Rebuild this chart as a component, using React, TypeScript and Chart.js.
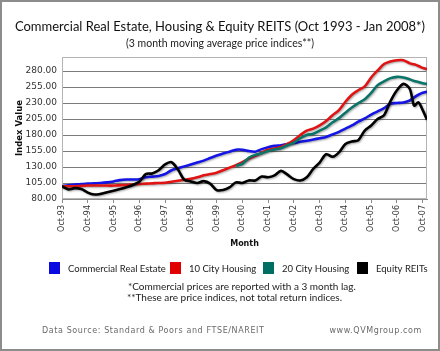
import React, { useEffect, useRef } from "react";
import { Chart, registerables } from "chart.js";

Chart.register(...registerables);

// Months since Oct 1993 (quarterly samples, denser at the end; last = Dec 2007)
const monthOffsets = [
  0, 3, 6, 9, 12, 15, 18, 21, 24, 27, 30, 33, 36, 39, 42, 45, 48, 51, 54, 57,
  60, 63, 66, 69, 72, 75, 78, 81, 84, 87, 90, 93, 96, 99, 102, 105, 108, 111, 114, 117,
  120, 123, 126, 129, 132, 135, 138, 141, 144, 147, 150, 153, 156, 159, 162, 164, 166, 168, 170,
];

const commercialRealEstate = [
  100, 101.5, 102.5, 103.5, 104, 104.5, 105, 106, 107.5, 109.5,
  110.5, 110.5, 111, 114, 115, 116, 119, 125, 128, 131,
  134, 137, 140, 144, 148, 151, 154, 157, 157, 155,
  154, 158, 161, 163, 164, 166, 167.5, 169.5, 171, 173,
  175, 177, 181, 185, 190, 195, 201, 206, 212, 217,
  222, 229, 230, 231, 234, 239, 243, 246, 248,
];

const tenCityHousing = [
  100, 100, 100, 100.5, 101, 101, 101, 101, 101, 101.5,
  102, 102.5, 103.5, 104, 104.5, 105, 105.5, 107, 108.5, 110,
  111.5, 114, 117, 119, 121, 125, 129, 133, 137.5, 143,
  147.5, 152.5, 157, 159, 161.5, 166, 172, 180, 187, 190,
  195, 202, 211, 219, 232, 243, 250, 256, 270, 281,
  291, 295, 297, 297, 292, 290.5, 288, 285, 283,
];

const twentyCityHousing = [
  null, null, null, null, null, null, null, null, null, null,
  null, null, null, null, null, null, null, null, null, null,
  null, null, null, null, null, null, null, 132, 135, 144.5,
  149, 151.5, 155, 157.5, 159.5, 164, 168, 175, 180, 182,
  187, 192, 200, 206.5, 215, 223, 230, 236, 246, 258,
  264, 269, 271, 270, 267, 264.5, 263, 261, 260,
];

const equityREITs = [
  100, 95, 97, 95.5, 90, 87, 88, 90.5, 93, 95.5,
  98.5, 102, 107, 119, 120, 125, 134, 137.5, 126, 110,
  107.5, 105, 108, 104, 94, 94, 98, 106, 105, 109,
  109, 115, 114, 117, 124, 118, 111, 109, 114, 127,
  137, 150, 146, 153, 166, 170, 172, 187, 195, 205,
  211, 233, 250, 260, 252, 226, 231, 219, 204,
];

const seriesNames = ["Commercial Real Estate", "10 City Housing", "20 City Housing", "Equity REITs"];
const seriesColors = ["#1414e6", "#e01414", "#0b7468", "#000000"];
const legendColors = ["#0a0ae0", "#e00000", "#006e62", "#000000"];

const xTickMonths = [0, 12, 24, 36, 48, 60, 72, 84, 96, 108, 120, 132, 144, 156, 168];
const xTickLabels = [
  "Oct-93", "Oct-94", "Oct-95", "Oct-96", "Oct-97", "Oct-98", "Oct-99", "Oct-00",
  "Oct-01", "Oct-02", "Oct-03", "Oct-04", "Oct-05", "Oct-06", "Oct-07",
];
const yTickValues = [80, 105, 130, 155, 180, 205, 230, 255, 280];

const TICK_FONT = "'DejaVu Sans', Verdana, sans-serif";
const TEXT_FONT = "Lato, 'Open Sans', sans-serif";

const toPoints = (vals: (number | null)[]) =>
  monthOffsets.map((m, i) => ({ x: m, y: vals[i] }));

export default function App() {
  const canvasRef = useRef<HTMLCanvasElement | null>(null);

  useEffect(() => {
    document.body.style.margin = "0";
    const canvas = canvasRef.current;
    if (!canvas) return;

    const frame = {
      id: "plotFrame",
      beforeDatasetsDraw(chart: any) {
        const { ctx, chartArea: a } = chart;
        ctx.save();
        ctx.strokeStyle = "#b4b4b4";
        ctx.lineWidth = 1;
        ctx.strokeRect(a.left + 0.5, a.top + 0.5, a.right - a.left - 1, a.bottom - a.top - 1);
        ctx.restore();
      },
    };

    const shadow = {
      id: "lineShadow",
      beforeDatasetDraw(chart: any) {
        const ctx = chart.ctx;
        ctx.save();
        ctx.shadowColor = "rgba(0,0,0,0.35)";
        ctx.shadowBlur = 2;
        ctx.shadowOffsetX = 1;
        ctx.shadowOffsetY = 1;
      },
      afterDatasetDraw(chart: any) {
        chart.ctx.restore();
      },
    };

    const legendBoxX = [49, 170, 263, 357];
    const legend = {
      id: "customLegend",
      afterDraw(chart: any) {
        const ctx = chart.ctx;
        ctx.save();
        const top = 262;
        seriesNames.forEach((name, i) => {
          const x = legendBoxX[i];
          ctx.fillStyle = legendColors[i];
          ctx.fillRect(x, top, 11, 12);
          ctx.fillStyle = "#222";
          ctx.font = `9.5px ${TEXT_FONT}`;
          ctx.textBaseline = "middle";
          ctx.textAlign = "left";
          ctx.fillText(name, x + 19, top + 6.5);
        });
        ctx.restore();
      },
    };

    const datasets = [
      { label: seriesNames[0], data: toPoints(commercialRealEstate), borderColor: seriesColors[0], order: 3 },
      { label: seriesNames[1], data: toPoints(tenCityHousing), borderColor: seriesColors[1], order: 2 },
      { label: seriesNames[2], data: toPoints(twentyCityHousing), borderColor: seriesColors[2], order: 1 },
      { label: seriesNames[3], data: toPoints(equityREITs), borderColor: seriesColors[3], order: 0 },
    ].map((d) => ({ ...d, borderWidth: 2.6, pointRadius: 0, tension: 0.3, fill: false, spanGaps: false }));

    const chart = new Chart(canvas, {
      type: "line",
      data: { datasets: datasets as any },
      plugins: [frame, shadow, legend],
      options: {
        animation: false,
        responsive: false,
        maintainAspectRatio: false,
        layout: { padding: { left: 0, right: 13, top: 57, bottom: 102 } },
        plugins: { legend: { display: false }, tooltip: { enabled: false } },
        scales: {
          x: {
            type: "linear",
            min: 0,
            max: 170,
            afterBuildTicks: (s: any) => {
              s.ticks = xTickMonths.map((v) => ({ value: v }));
            },
            afterFit: (s: any) => {
              s.height = 50;
              s.paddingLeft = 0;
              s.paddingRight = 0;
            },
            ticks: {
              autoSkip: false,
              maxRotation: 90,
              minRotation: 90,
              padding: 2,
              color: "#333",
              font: { family: TICK_FONT, size: 8 },
              callback: (_v: any, i: number) => xTickLabels[i],
            },
            grid: { drawOnChartArea: false, drawTicks: true, tickLength: 4, color: "#8a8a8a" },
            border: { display: true, color: "#8a8a8a" },
            title: {
              display: true,
              text: "Month",
              color: "#111",
              padding: 0,
              font: { family: TICK_FONT, size: 8, weight: "bold" },
            },
          },
          y: {
            min: 80,
            max: 302,
            afterBuildTicks: (s: any) => {
              s.ticks = yTickValues.map((v) => ({ value: v }));
            },
            afterFit: (s: any) => {
              s.width = 62;
            },
            ticks: {
              padding: 5,
              color: "#333",
              font: { family: TICK_FONT, size: 9 },
              callback: (v: any) => Number(v).toFixed(2),
            },
            grid: { color: "#7c7c7c", drawTicks: false, lineWidth: 1 },
            border: { display: true, color: "#8a8a8a" },
            title: {
              display: true,
              text: "Index Value",
              color: "#111",
              padding: { top: 15, bottom: 0 },
              font: { family: TICK_FONT, size: 8.5, weight: "bold" },
            },
          },
        },
      } as any,
    });

    return () => chart.destroy();
  }, []);

  const abs = (style: React.CSSProperties): React.CSSProperties => ({
    position: "absolute",
    whiteSpace: "nowrap",
    lineHeight: 1,
    ...style,
  });

  return (
    <div style={{ position: "relative", width: 440, height: 351, background: "#fff", overflow: "hidden" }}>
      <canvas ref={canvasRef} width={440} height={351} style={{ position: "absolute", left: 0, top: 0 }} />
      <div style={abs({ left: 0, width: 440, top: 20, textAlign: "center", fontFamily: TEXT_FONT, fontSize: 13, color: "#111" })}>
        Commercial Real Estate, Housing &amp; Equity REITS (Oct 1993 - Jan 2008*)
      </div>
      <div style={abs({ left: 0, width: 440, top: 38, textAlign: "center", fontFamily: TEXT_FONT, fontSize: 10.5, color: "#222" })}>
        (3 month moving average price indices**)
      </div>
      <div style={abs({ left: 128, top: 281, fontFamily: TEXT_FONT, fontSize: 10, color: "#222" })}>
        *Commercial prices are reported with a 3 month lag.
      </div>
      <div style={abs({ left: 127, top: 292, fontFamily: TEXT_FONT, fontSize: 10, color: "#222" })}>
        **These are price indices, not total return indices.
      </div>
      <div style={abs({ left: 42, top: 327, fontFamily: TICK_FONT, fontSize: 8, letterSpacing: 0.6, color: "#6a6a6a" })}>
        Data Source: Standard &amp; Poors and FTSE/NAREIT
      </div>
      <div style={abs({ right: 18, top: 327, fontFamily: TICK_FONT, fontSize: 8, letterSpacing: 0.6, color: "#6a6a6a" })}>
        www.QVMgroup.com
      </div>
      <div style={{ position: "absolute", left: 0, top: 0, width: 440, height: 351, boxSizing: "border-box", border: "2px solid #8c8c8c", pointerEvents: "none" }} />
    </div>
  );
}
